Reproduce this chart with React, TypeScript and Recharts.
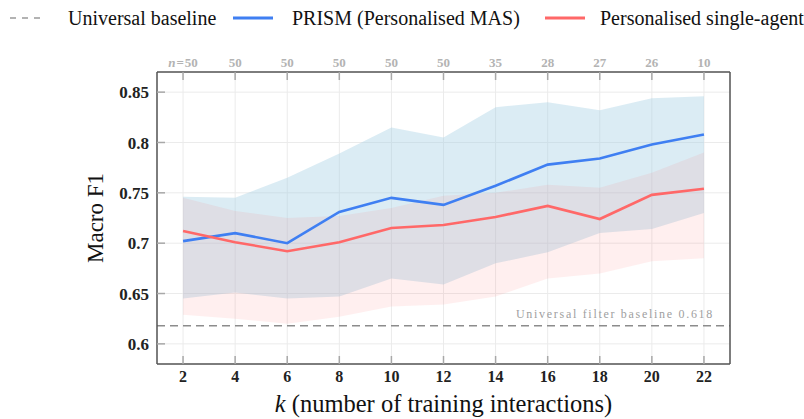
import React from 'react';
import { ComposedChart, Area, Line, XAxis, YAxis, CartesianGrid, ReferenceLine } from 'recharts';

const kValues = [2, 4, 6, 8, 10, 12, 14, 16, 18, 20, 22];
const nUsers = [50, 50, 50, 50, 50, 50, 35, 28, 27, 26, 10];
const prismF1 = [0.702, 0.71, 0.7, 0.731, 0.745, 0.738, 0.757, 0.778, 0.784, 0.798, 0.808];
const prismLow = [0.645, 0.651, 0.645, 0.647, 0.665, 0.659, 0.68, 0.691, 0.71, 0.714, 0.73];
const prismHigh = [0.746, 0.745, 0.765, 0.789, 0.815, 0.805, 0.835, 0.84, 0.832, 0.844, 0.846];
const singleF1 = [0.712, 0.701, 0.692, 0.701, 0.715, 0.718, 0.726, 0.737, 0.724, 0.748, 0.754];
const singleLow = [0.629, 0.625, 0.62, 0.627, 0.637, 0.639, 0.647, 0.665, 0.67, 0.682, 0.685];
const singleHigh = [0.745, 0.732, 0.725, 0.727, 0.735, 0.747, 0.75, 0.758, 0.755, 0.77, 0.79];
const yTicks = [0.6, 0.65, 0.7, 0.75, 0.8, 0.85];
const universalBaseline = 0.618;

const data = kValues.map((k, i) => ({
  k,
  prism: prismF1[i],
  prismBand: [prismLow[i], prismHigh[i]],
  single: singleF1[i],
  singleBand: [singleLow[i], singleHigh[i]],
}));

const FONT = 'Liberation Serif, serif';
const BLUE = '#3f7ff2';
const RED = '#ff6868';

const TopTick = (props: any) => {
  const { x, y, payload } = props;
  const i = kValues.indexOf(payload.value);
  const n = nUsers[i];
  return (
    <text x={x} y={y} textAnchor="middle" fill="#b3b3b3" fontSize={13} fontWeight="bold" fontFamily={FONT} style={{ fontFamily: FONT }}>
      {i === 0 ? (
        <>
          <tspan fontStyle="italic">n</tspan>
          <tspan dx={1}>=</tspan>
          <tspan dx={1}>{n}</tspan>
        </>
      ) : (
        String(n)
      )}
    </text>
  );
};

const YTitle = (props: any) => {
  const vb = props.viewBox || {};
  const cx = vb.x + 26;
  const cy = vb.y + vb.height / 2;
  return (
    <text transform={`translate(${cx},${cy}) rotate(-90)`} textAnchor="middle" fontSize={23} fontFamily={FONT} style={{ fontFamily: FONT }} fill="#111">
      Macro F1
    </text>
  );
};

const XTitle = (props: any) => {
  const vb = props.viewBox || {};
  const cx = vb.x + vb.width / 2;
  const cy = vb.y + 48;
  return (
    <text x={cx} y={cy} textAnchor="middle" fontSize={24.5} fontFamily={FONT} style={{ fontFamily: FONT }} fill="#111">
      <tspan fontStyle="italic">k</tspan> (number of training interactions)
    </text>
  );
};

const BaselineLabel = (props: any) => {
  const vb = props.viewBox || {};
  return (
    <text x={vb.x + vb.width - 16} y={vb.y - 8} textAnchor="end" fontSize={12} fill="#a0a0a0" fontFamily={FONT} style={{ fontFamily: FONT }} letterSpacing={1.7}>
      Universal filter baseline 0.618
    </text>
  );
};

const tickStyle = { fill: '#222', fontWeight: 'bold', fontFamily: FONT, style: { fontFamily: FONT } };

export default function App() {
  return (
    <div style={{ position: 'absolute', left: 0, top: 0, width: 804, height: 419, background: '#fff', fontFamily: FONT }}>
      <ComposedChart width={804} height={419} data={data} margin={{ top: 42, right: 64, bottom: 0, left: 77 }} style={{ fontFamily: FONT }}>
        <CartesianGrid stroke="#ebebeb" strokeWidth={1} />
        <XAxis
          dataKey="k"
          type="number"
          domain={[1, 23]}
          ticks={kValues}
          allowDataOverflow
          height={55}
          tickSize={-8}
          tickMargin={15}
          tickLine={{ stroke: '#a8a8a8', strokeWidth: 1.5 }}
          axisLine={{ stroke: '#555', strokeWidth: 1.5 }}
          tick={{ ...tickStyle, fontSize: 16 }}
          label={{ content: XTitle } as any}
        />
        <XAxis
          xAxisId="top"
          orientation="top"
          dataKey="k"
          type="number"
          domain={[1, 23]}
          ticks={kValues}
          allowDataOverflow
          height={30}
          tickSize={-8}
          tickMargin={13}
          tickLine={{ stroke: '#a8a8a8', strokeWidth: 1.5 }}
          axisLine={{ stroke: '#555', strokeWidth: 1.5 }}
          tick={<TopTick />}
        />
        <YAxis
          type="number"
          domain={[0.58, 0.87]}
          ticks={yTicks}
          allowDataOverflow
          width={80}
          tickSize={-8}
          tickMargin={16}
          tickFormatter={(v: number) => String(v)}
          tickLine={{ stroke: '#a8a8a8', strokeWidth: 1.5 }}
          axisLine={{ stroke: '#555', strokeWidth: 1.5 }}
          tick={{ ...tickStyle, fontSize: 17 }}
          label={{ content: YTitle } as any}
        />
        <YAxis
          yAxisId="right"
          orientation="right"
          type="number"
          domain={[0.58, 0.87]}
          ticks={yTicks}
          allowDataOverflow
          width={10}
          tickSize={-8}
          tick={false}
          tickLine={{ stroke: '#a8a8a8', strokeWidth: 1.5 }}
          axisLine={{ stroke: '#555', strokeWidth: 1.5 }}
        />
        <Area
          type="linear"
          dataKey="prismBand"
          stroke="none"
          fill="#a6cfe4"
          fillOpacity={0.4}
          isAnimationActive={false}
          activeDot={false}
        />
        <Area
          type="linear"
          dataKey="singleBand"
          stroke="none"
          fill="#ff6060"
          fillOpacity={0.1}
          isAnimationActive={false}
          activeDot={false}
        />
        <ReferenceLine
          y={universalBaseline}
          stroke="#8c8c8c"
          strokeWidth={1.5}
          strokeDasharray="8 5"
          label={{ content: BaselineLabel } as any}
        />
        <Line type="linear" dataKey="prism" stroke={BLUE} strokeWidth={2.6} dot={false} activeDot={false} isAnimationActive={false} />
        <Line type="linear" dataKey="single" stroke={RED} strokeWidth={2.6} dot={false} activeDot={false} isAnimationActive={false} />
      </ComposedChart>
      <svg width={804} height={40} style={{ position: 'absolute', left: 0, top: 0, fontFamily: FONT }}>
        <line x1={10} y1={18} x2={45} y2={18} stroke="#9a9a9a" strokeWidth={1.5} strokeDasharray="6 6" />
        <text x={68} y={25} fontSize={20} fill="#111">Universal baseline</text>
        <line x1={233} y1={18} x2={273} y2={18} stroke={BLUE} strokeWidth={3} />
        <text x={292} y={25} fontSize={20} fill="#111">PRISM (Personalised MAS)</text>
        <line x1={545} y1={18} x2={585} y2={18} stroke={RED} strokeWidth={3} />
        <text x={600} y={25} fontSize={20} fill="#111">Personalised single-agent</text>
      </svg>
    </div>
  );
}
